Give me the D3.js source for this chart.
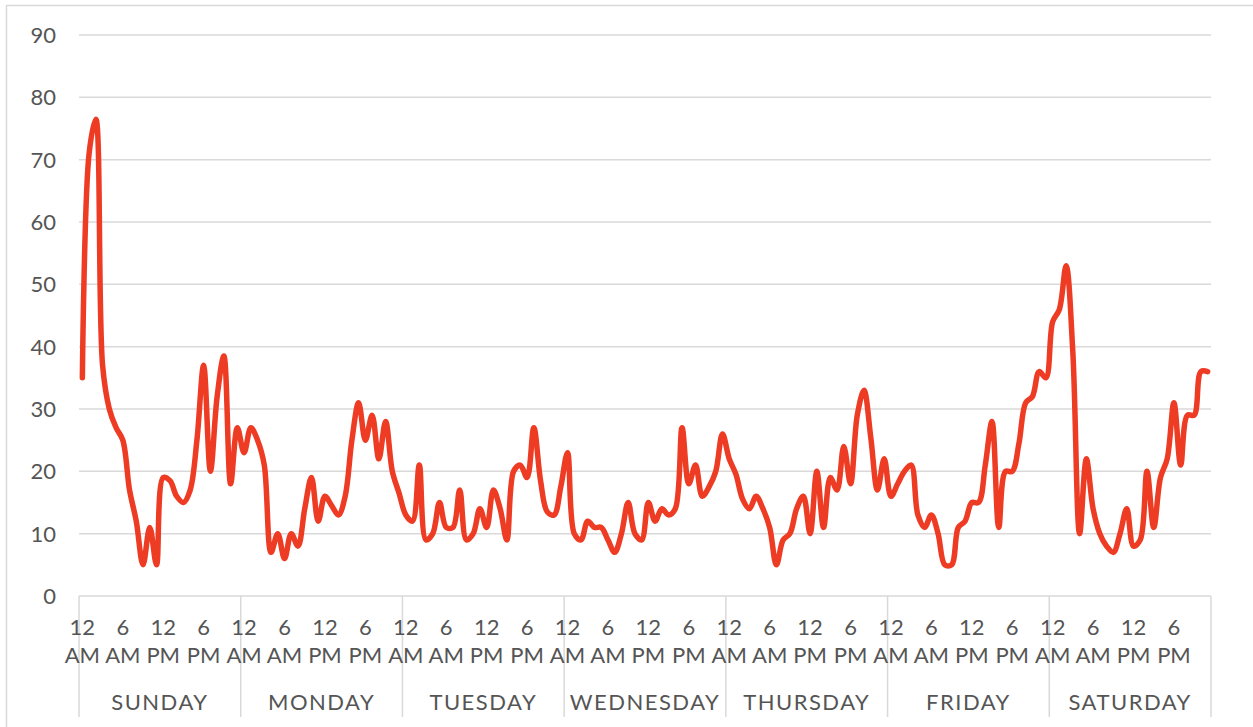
<!DOCTYPE html>
<html>
<head>
  <meta charset="utf-8">
  <script src="https://d3js.org/d3.v7.min.js"></script>
  <style>
    body { margin: 0; background: #fff; }
    text { font-family: Lato, "Open Sans", sans-serif; fill: #555; }
  </style>
</head>
<body>
<script type="text/javascript">

/*
  Hourly values, one array per day (12 AM .. 11 PM)
*/
var days = ["SUNDAY", "MONDAY", "TUESDAY", "WEDNESDAY", "THURSDAY", "FRIDAY", "SATURDAY"];

var sunday    = [35, 71, 76.5, 37, 30, 27, 25, 17, 12, 5, 11, 5, 19, 18.5, 16, 15, 17, 25, 37, 20, 32, 38.5, 18, 27];
var monday    = [23, 27, 25, 21, 7, 10, 6, 10, 8, 14, 19, 12, 16, 14.5, 13, 16, 25, 31, 25, 29, 22, 28, 20, 16.5];
var tuesday   = [13, 12, 21, 9, 10, 15, 11, 11, 17, 9, 10, 14, 11, 17, 14, 9, 20, 21, 19, 27, 18.5, 13.5, 13, 17.5];
var wednesday = [23, 10, 9, 12, 11, 11, 9, 7, 10, 15, 10, 9, 15, 12, 14, 13, 14, 27, 18, 21, 16, 17.5, 20, 26];
var thursday  = [22, 19.5, 15.5, 14, 16, 14, 11, 5, 9, 10, 14, 16, 10, 20, 11, 19, 17, 24, 18, 29, 33, 25.5, 17, 22];
var friday    = [16, 18, 20, 21, 13, 11, 13, 10, 5, 5, 11, 12, 15, 15, 21, 28, 11, 20, 20, 24.5, 31, 32, 36, 35];
var saturday  = [44, 46, 53, 39, 10, 22, 14, 10, 8, 7, 10, 14, 8, 9, 20, 11, 19, 22, 31, 21, 29, 29, 36, 36];

/* labels shown every 6 hours */
var hourTicks = [0, 6, 12, 18];
var hourTop = ["12", "6", "12", "6"];
var hourBottom = ["AM", "AM", "PM", "PM"];

var yTicks = [0, 10, 20, 30, 40, 50, 60, 70, 80, 90];

function draw() {
  "use strict";

  var series = [sunday, monday, tuesday, wednesday, thursday, friday, saturday];
  var data = [];
  series.forEach(function (vals, d) {
    vals.forEach(function (v, h) { data.push({ i: d * 24 + h, value: v }); });
  });

  var width = 1253, height = 727;
  var plotLeft = 79, plotRight = 1211, plotTop = 35, plotBottom = 596;

  var svg = d3.select("body").append("svg")
    .attr("width", width)
    .attr("height", height);

  svg.append("rect")
    .attr("width", width).attr("height", height)
    .style("fill", "#fff");

  /* outer chart border */
  svg.append("rect")
    .attr("x", 6.5).attr("y", 5.5)
    .attr("width", width).attr("height", height)
    .style("fill", "none")
    .style("stroke", "#d9d9d9")
    .style("stroke-width", 1.5);

  var x = d3.scaleBand()
    .domain(d3.range(data.length))
    .range([plotLeft, plotRight]);

  var y = d3.scaleLinear()
    .domain([0, 90])
    .range([plotBottom, plotTop]);

  var dayX = d3.scaleLinear()
    .domain([0, days.length])
    .range([plotLeft, plotRight]);

  /*
    Gridlines and y labels
  */
  svg.selectAll(".grid")
    .data(yTicks.slice(1))
    .enter()
    .append("line")
      .attr("x1", plotLeft).attr("x2", plotRight)
      .attr("y1", function (d) { return y(d); })
      .attr("y2", function (d) { return y(d); })
      .style("stroke", "#d9d9d9")
      .style("stroke-width", 1.5);

  svg.selectAll(".ylab")
    .data(yTicks)
    .enter()
    .append("text")
      .attr("x", 56)
      .attr("y", function (d) { return y(d) + 8; })
      .attr("text-anchor", "end")
      .style("font-size", "22px")
      .text(function (d) { return d; });

  /*
    Category axis: base line, day separators, hour and day labels
  */
  svg.append("line")
    .attr("x1", plotLeft).attr("x2", plotRight)
    .attr("y1", y(0)).attr("y2", y(0))
    .style("stroke", "#d9d9d9")
    .style("stroke-width", 1.5);

  svg.selectAll(".sep")
    .data(d3.range(days.length + 1))
    .enter()
    .append("line")
      .attr("x1", function (d) { return dayX(d); })
      .attr("x2", function (d) { return dayX(d); })
      .attr("y1", y(0)).attr("y2", 717)
      .style("stroke", "#d9d9d9")
      .style("stroke-width", 1.5);

  var hourLabels = [];
  days.forEach(function (day, d) {
    hourTicks.forEach(function (h, k) {
      hourLabels.push({ i: d * 24 + h, top: hourTop[k], bottom: hourBottom[k] });
    });
  });

  var hl = svg.selectAll(".hour")
    .data(hourLabels)
    .enter()
    .append("g")
      .attr("transform", function (d) {
        return "translate(" + (x(d.i) + x.bandwidth() / 2) + ",0)";
      });

  hl.append("text")
    .attr("y", 635)
    .attr("text-anchor", "middle")
    .style("font-size", "22px")
    .text(function (d) { return d.top; });

  hl.append("text")
    .attr("y", 663)
    .attr("text-anchor", "middle")
    .style("font-size", "22px")
    .text(function (d) { return d.bottom; });

  svg.selectAll(".day")
    .data(days)
    .enter()
    .append("text")
      .attr("x", function (d, i) { return (dayX(i) + dayX(i + 1)) / 2; })
      .attr("y", 709.5)
      .attr("text-anchor", "middle")
      .style("font-size", "22px")
      .style("letter-spacing", "1.5px")
      .text(function (d) { return d; });

  /*
    Smoothed line
  */
  var line = d3.line()
    .x(function (d) { return x(d.i) + x.bandwidth() / 2; })
    .y(function (d) { return y(d.value); })
    .curve(d3.curveCatmullRom.alpha(0.5));

  svg.append("path")
    .datum(data)
    .attr("d", line)
    .style("fill", "none")
    .style("stroke", "#ee3b24")
    .style("stroke-width", 5.5)
    .style("stroke-linecap", "round")
    .style("stroke-linejoin", "round");
}

draw();

</script>
</body>
</html>
